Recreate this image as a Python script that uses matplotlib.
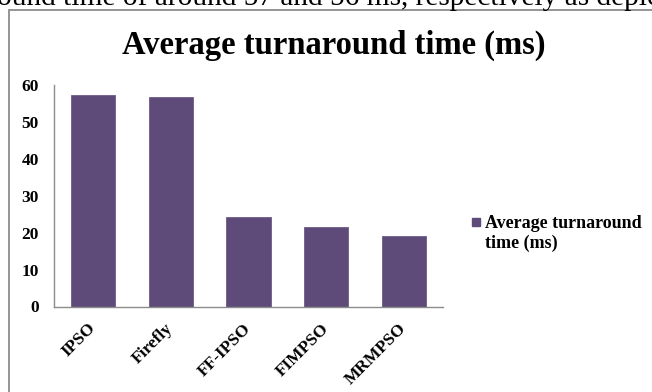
import matplotlib
matplotlib.use("Agg")
import matplotlib.pyplot as plt
from matplotlib.patches import Rectangle

categories = ["IPSO", "Firefly", "FF-IPSO", "FIMPSO", "MRMPSO"]
values = [57.3, 56.8, 24.2, 21.6, 19.0]
series_name = "Average turnaround time (ms)"
yticks = [0, 10, 20, 30, 40, 50, 60]

W, H = 652, 392
fig = plt.figure(figsize=(W / 100, H / 100), dpi=100)
serif = "Liberation Serif"
bar_color = "#5F4B7A"

# page text above the chart (cropped at the top edge)
fig.text(-3 / W, 1 - 5 / H, "ound time of around 57 and 56 ms, respectively as depicted",
         family=serif, fontsize=21.2, va="baseline", ha="left")

# chart frame
fig.patches.append(Rectangle((9 / W, -0.05), 1.0, 1 - 10 / H + 0.05,
                             transform=fig.transFigure, fill=False,
                             edgecolor="#8c8c8c", linewidth=1.3))

ax = fig.add_axes([54 / W, (H - 306.5) / H, (443 - 54) / W, (306.5 - 85) / H])
x = range(len(categories))
ax.bar(x, values, width=0.57, color=bar_color, edgecolor="#6e5a88", linewidth=0.6,
       label=series_name)
ax.set_xlim(-0.5, len(categories) - 0.5)
ax.set_ylim(0, 60)
ax.set_yticks(yticks)
ax.set_yticklabels([str(v) for v in yticks], family=serif, fontweight="bold", fontsize=12.5)
ax.set_xticks(list(x))
ax.set_xticklabels(categories, family=serif, fontweight="bold", fontsize=12.5,
                   rotation=45, ha="right", va="center", rotation_mode="anchor")
ax.tick_params(axis="both", length=0)
ax.tick_params(axis="y", pad=11)
ax.tick_params(axis="x", pad=14)
for s in ["top", "right"]:
    ax.spines[s].set_visible(False)
for s in ["left", "bottom"]:
    ax.spines[s].set_color("#8c8c8c")
    ax.spines[s].set_linewidth(1.0)

fig.text(334 / W, 1 - 54 / H, "Average turnaround time (ms)", family=serif,
         fontweight="bold", fontsize=23.5, ha="center", va="baseline")

# legend
fig.patches.append(Rectangle((472 / W, 1 - 226 / H), 8 / W, 8 / H,
                             transform=fig.transFigure, color=bar_color))
fig.text(485 / W, 1 - 223 / H, "Average turnaround", family=serif, fontweight="bold",
         fontsize=13, ha="left", va="center")
fig.text(485 / W, 1 - 243 / H, "time (ms)", family=serif, fontweight="bold",
         fontsize=13, ha="left", va="center")

fig.savefig("out.png", dpi=100)
